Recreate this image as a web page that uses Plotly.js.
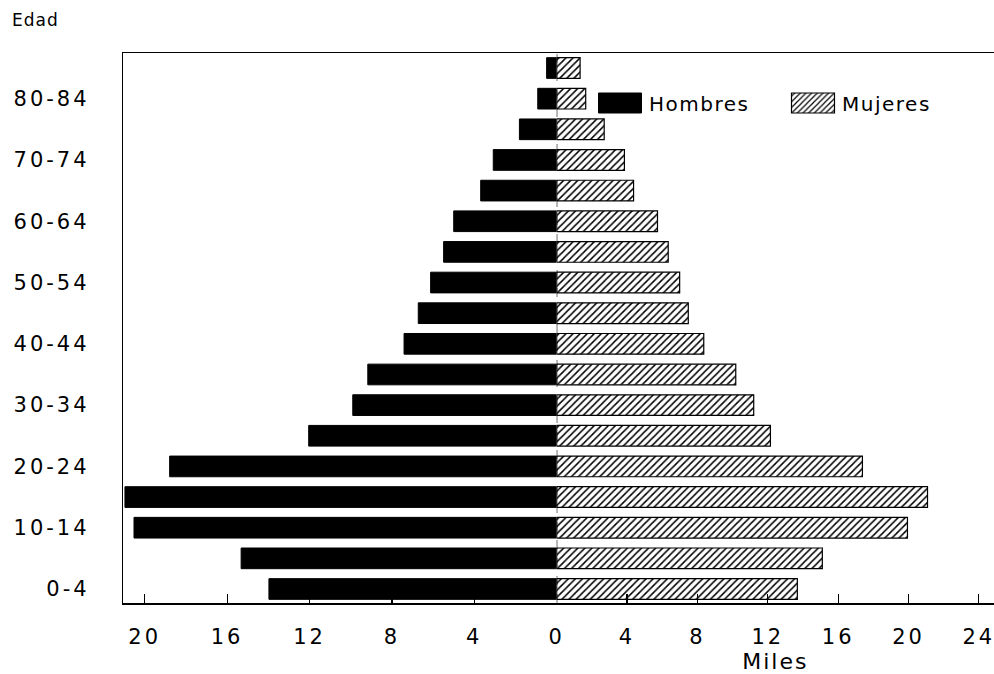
<!DOCTYPE html>
<html>
<head>
<meta charset="utf-8">
<script src="https://cdn.plot.ly/plotly-3.0.1.min.js"></script>
<style>
  html, body { margin: 0; padding: 0; background: #fff; }
  #chart { width: 994px; height: 674px; }
  .xtick text, .x2tick text, .ytick text { letter-spacing: 3px; }
  .legendtext { letter-spacing: 1.5px; }
  .x2title { letter-spacing: 2px; }
  .annotation-text { letter-spacing: 1px; }
</style>
</head>
<body>
<div id="chart"></div>
<script>
// Age groups, bottom to top
const ageGroups = ["0-4","5-9","10-14","15-19","20-24","25-29","30-34","35-39","40-44",
                   "45-49","50-54","55-59","60-64","65-69","70-74","75-79","80-84","85+"];
// Thousands (Miles)
const hombres = [13.97, 15.32, 20.52, 20.96, 18.79, 12.04, 9.90, 9.17, 7.41,
                 6.72, 6.12, 5.49, 5.00, 3.69, 3.08, 1.81, 0.92, 0.49];
const mujeres = [13.68, 15.10, 19.94, 21.08, 17.38, 12.15, 11.20, 10.18, 8.36,
                 7.48, 6.99, 6.34, 5.73, 4.37, 3.85, 2.70, 1.65, 1.33];
const ageTickVals = ["0-4","10-14","20-24","30-34","40-44","50-54","60-64","70-74","80-84"];
const menTicks = [4, 8, 12, 16, 20];
const womenTicks = [0, 4, 8, 12, 16, 20, 24];

const FONT = "DejaVu Sans, Liberation Sans, Arial, sans-serif";
const W = 994, H = 674;
const plotLeft = 123.3, plotCenter = 556.7;

const traces = [
  {
    type: "bar", orientation: "h", name: "Hombres",
    y: ageGroups, x: hombres, xaxis: "x", yaxis: "y",
    marker: { color: "#000000", line: { color: "#000000", width: 1 } },
    hoverinfo: "skip"
  },
  {
    type: "bar", orientation: "h", name: "Mujeres",
    y: ageGroups, x: mujeres, xaxis: "x2", yaxis: "y",
    marker: {
      color: "#ffffff",
      line: { color: "#000000", width: 1.2 },
      pattern: { shape: "/", fgcolor: "#000000", bgcolor: "#ffffff", size: 5, solidity: 0.3 }
    },
    hoverinfo: "skip"
  }
];

const layout = {
  width: W, height: H,
  margin: { l: 0, r: 0, t: 53, b: 71 },
  paper_bgcolor: "#ffffff", plot_bgcolor: "#ffffff",
  font: { family: FONT, size: 20, color: "#000000" },
  showlegend: true,
  bargap: 0.325,
  xaxis: {
    domain: [plotLeft / W, plotCenter / W],
    range: [21.04, 0],
    anchor: "y",
    tickmode: "array", tickvals: menTicks, ticktext: menTicks.map(String),
    ticks: "inside", ticklen: 9, tickwidth: 1.2, tickcolor: "#000",
    showgrid: false, zeroline: false,
    showline: true, linecolor: "#000", linewidth: 1.5, mirror: true,
    tickfont: { family: FONT, size: 21, color: "#000" },
    ticklabelstandoff: 14,
    ticklabeloverflow: "allow"
  },
  xaxis2: {
    domain: [plotCenter / W, 1],
    range: [0, 24.86],
    anchor: "y",
    tickmode: "array", tickvals: womenTicks, ticktext: womenTicks.map(String),
    ticks: "inside", ticklen: 9, tickwidth: 1.2, tickcolor: "#000",
    showgrid: false, zeroline: false,
    showline: true, linecolor: "#000", linewidth: 1.5, mirror: true,
    tickfont: { family: FONT, size: 21, color: "#000" },
    ticklabelstandoff: 14,
    ticklabeloverflow: "allow",
    title: { text: "Miles", font: { family: FONT, size: 22, color: "#000" }, standoff: 4 }
  },
  yaxis: {
    type: "category",
    categoryorder: "array", categoryarray: ageGroups,
    range: [-0.457, 17.49],
    anchor: "x",
    tickmode: "array", tickvals: ageTickVals, ticktext: ageTickVals,
    ticks: "", showgrid: false, zeroline: false,
    showline: true, linecolor: "#000", linewidth: 1.5,
    tickfont: { family: FONT, size: 21, color: "#000" },
    ticklabelstandoff: 28
  },
  legend: {
    orientation: "h",
    x: 591 / W, xanchor: "left",
    y: (603 - 103) / 550, yanchor: "middle",
    bgcolor: "rgba(0,0,0,0)", borderwidth: 0,
    font: { family: FONT, size: 20, color: "#000" },
    itemwidth: 48,
    entrywidth: 130, entrywidthmode: "pixels",
    traceorder: "normal"
  },
  shapes: [
    {
      type: "line", xref: "x2", yref: "paper",
      x0: 0, x1: 0, y0: 0, y1: 1,
      line: { color: "#000", width: 1.2, dash: "dash" },
      layer: "above"
    }
  ],
  annotations: [
    {
      text: "Edad", xref: "paper", yref: "paper",
      x: 10 / W, xanchor: "left",
      y: (603 - 20) / 550, yanchor: "middle",
      showarrow: false,
      font: { family: FONT, size: 17, color: "#000" }
    }
  ]
};

Plotly.newPlot("chart", traces, layout, { staticPlot: true, displayModeBar: false }).then(function () {
  // enlarge the legend swatches to wide rectangles like the original
  document.querySelectorAll(".legend .legendpoints path").forEach(function (p) {
    p.setAttribute("d", "M21.5,10H-21.5V-10H21.5Z");
  });
});
</script>
</body>
</html>
